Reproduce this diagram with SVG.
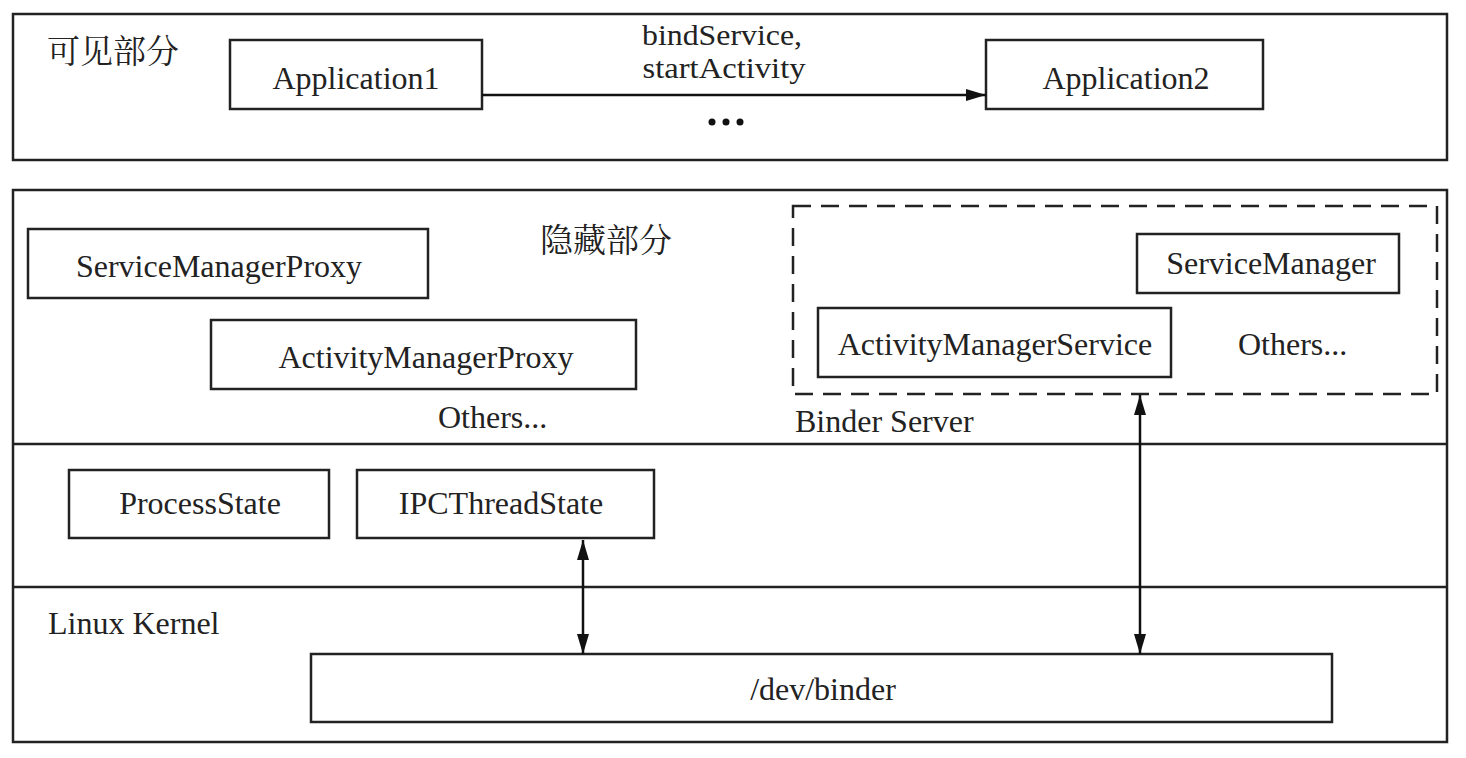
<svg xmlns="http://www.w3.org/2000/svg" width="1466" height="758" viewBox="0 0 1466 758">
<defs>
<marker id="ah" viewBox="0 0 20 12" refX="20" refY="6" markerWidth="20" markerHeight="12" markerUnits="userSpaceOnUse" orient="auto-start-reverse">
<path d="M0,0 L20,6 L0,12 Z" fill="#111"/>
</marker>
</defs>
<style>
.frame{fill:#fff;stroke:#222;stroke-width:2.5}
.box{fill:#fff;stroke:#222;stroke-width:2.5}
.dash{fill:none;stroke:#222;stroke-width:2.5;stroke-dasharray:18 10}
.sep{stroke:#222;stroke-width:2.5}
.t{font-family:"Liberation Serif","Times New Roman",serif;font-size:32px;fill:#222}
.s{font-size:29px}
.c{text-anchor:middle}
.zh{font-family:"Noto Serif CJK SC","Noto Sans CJK SC",serif;font-size:33px;fill:#222}
.conn{stroke:#111;stroke-width:2.5;fill:none}
</style>
<rect width="1466" height="758" fill="#fff"/>
<g id="visible">
<rect class="frame" x="13" y="14" width="1434" height="146"/>
<text class="zh" x="47" y="63">可见部分</text>
</g>
<g id="hidden">
<rect class="frame" x="13" y="190" width="1434" height="552"/>
<line class="sep" x1="13" y1="444" x2="1447" y2="444"/>
<line class="sep" x1="13" y1="587" x2="1447" y2="587"/>
<text class="zh" x="540" y="252">隐藏部分</text>
<text class="t" x="438" y="428">Others...</text>
<text class="t" x="48" y="634">Linux Kernel</text>
</g>
<g id="app1">
<rect class="box" x="230" y="40" width="252" height="69"/>
<text class="t c" x="356" y="89">Application1</text>
</g>
<g id="app2">
<rect class="box" x="986" y="40" width="277" height="69"/>
<text class="t c" x="1126" y="89">Application2</text>
</g>
<g id="smp">
<rect class="box" x="28" y="229" width="400" height="69"/>
<text class="t c" x="219" y="277">ServiceManagerProxy</text>
</g>
<g id="amp">
<rect class="box" x="211" y="320" width="425" height="69"/>
<text class="t c" x="426" y="368">ActivityManagerProxy</text>
</g>
<g id="binderserver">
<rect class="dash" x="793" y="206" width="644" height="188"/>
<text class="t" x="795" y="432">Binder Server</text>
<text class="t" x="1238" y="355">Others...</text>
</g>
<g id="sm">
<rect class="box" x="1137" y="234" width="262" height="59"/>
<text class="t c" x="1271" y="274">ServiceManager</text>
</g>
<g id="ams">
<rect class="box" x="818" y="308" width="353" height="69"/>
<text class="t c" x="995" y="355">ActivityManagerService</text>
</g>
<g id="ps">
<rect class="box" x="69" y="470" width="260" height="68"/>
<text class="t c" x="200" y="514">ProcessState</text>
</g>
<g id="ipc">
<rect class="box" x="357" y="470" width="297" height="68"/>
<text class="t c" x="501" y="514">IPCThreadState</text>
</g>
<g id="devbinder">
<rect class="box" x="311" y="654" width="1021" height="68"/>
<text class="t c" x="823" y="700">/dev/binder</text>
</g>
<g id="connectors">
<line class="conn" x1="482" y1="95" x2="986" y2="95" marker-end="url(#ah)"/>
<text class="t s c" x="722" y="45" textLength="160" lengthAdjust="spacingAndGlyphs">bindService,</text>
<text class="t s c" x="724" y="78" textLength="163" lengthAdjust="spacingAndGlyphs">startActivity</text>
<circle cx="712" cy="122" r="3.5" fill="#111"/>
<circle cx="726" cy="122" r="3.5" fill="#111"/>
<circle cx="740" cy="122" r="3.5" fill="#111"/>
<line class="conn" x1="583" y1="540" x2="583" y2="654" marker-start="url(#ah)" marker-end="url(#ah)"/>
<line class="conn" x1="1140" y1="395" x2="1140" y2="654" marker-start="url(#ah)" marker-end="url(#ah)"/>
</g>
</svg>
